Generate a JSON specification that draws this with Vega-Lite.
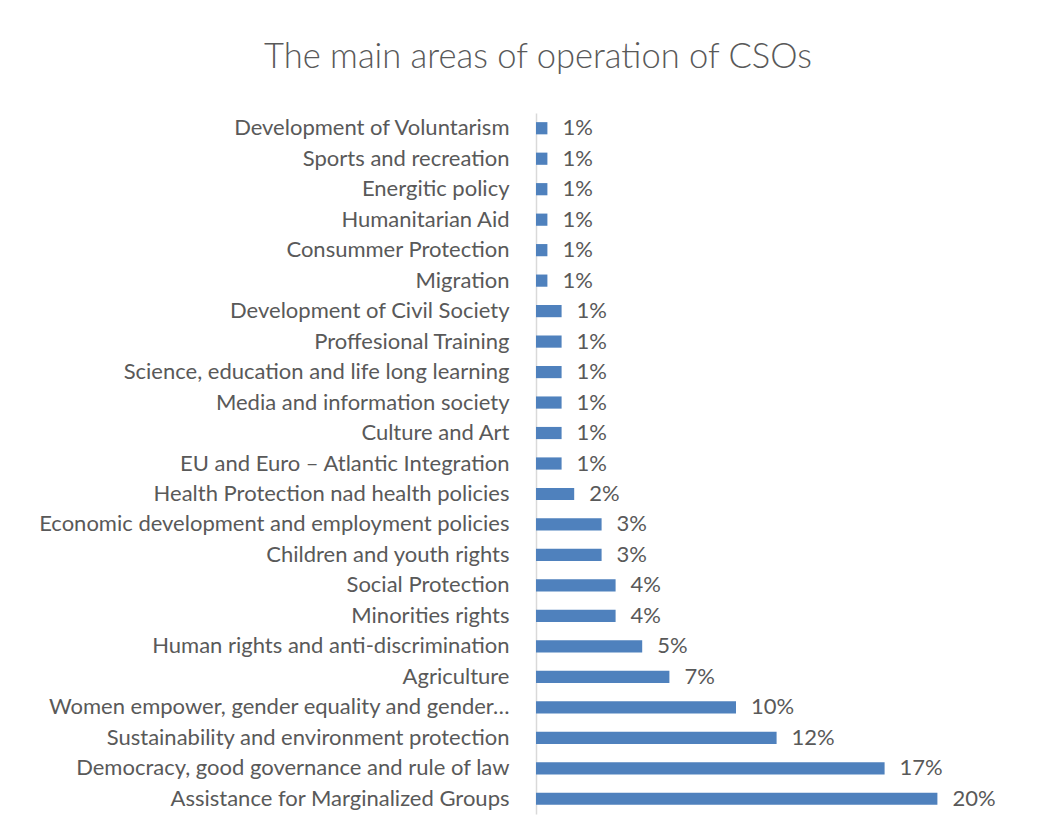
{
  "$schema": "https://vega.github.io/schema/vega-lite/v6.json",
  "width": 500,
  "height": 701,
  "autosize": "none",
  "padding": {"left": 536, "top": 113, "right": 17, "bottom": 20},
  "background": "white",
  "title": {
    "text": "The main areas of operation of CSOs",
    "anchor": "middle",
    "frame": "group",
    "dx": -248,
    "offset": 38,
    "font": "Lato",
    "fontWeight": 300,
    "fontSize": 34.5,
    "color": "#595959"
  },
  "data": {
    "values": [
      {"area": "Development of Voluntarism", "share": 0.0057},
      {"area": "Sports and recreation", "share": 0.0057},
      {"area": "Energitic policy", "share": 0.0057},
      {"area": "Humanitarian Aid", "share": 0.0057},
      {"area": "Consummer Protection", "share": 0.0057},
      {"area": "Migration", "share": 0.0057},
      {"area": "Development of Civil Society", "share": 0.0128},
      {"area": "Proffesional Training", "share": 0.0128},
      {"area": "Science, education and life long learning", "share": 0.0128},
      {"area": "Media and information society", "share": 0.0128},
      {"area": "Culture and Art", "share": 0.0128},
      {"area": "EU and Euro – Atlantic Integration", "share": 0.0128},
      {"area": "Health Protection nad health policies", "share": 0.0191},
      {"area": "Economic development and employment policies", "share": 0.0328},
      {"area": "Children and youth rights", "share": 0.0328},
      {"area": "Social Protection", "share": 0.0398},
      {"area": "Minorities rights", "share": 0.0398},
      {"area": "Human rights and anti-discrimination", "share": 0.0531},
      {"area": "Agriculture", "share": 0.0667},
      {"area": "Women empower, gender equality and gender…", "share": 0.1},
      {"area": "Sustainability and environment protection", "share": 0.1203},
      {"area": "Democracy, good governance and rule of law", "share": 0.1743},
      {"area": "Assistance for Marginalized Groups", "share": 0.2007}
    ]
  },
  "encoding": {
    "y": {
      "field": "area",
      "type": "nominal",
      "sort": null,
      "scale": {"paddingInner": 0.6, "paddingOuter": 0.3},
      "axis": {
        "title": null,
        "ticks": false,
        "domain": true,
        "domainColor": "#d9d9d9",
        "domainWidth": 1.5,
        "labelFont": "Lato",
        "labelFontSize": 22,
        "labelColor": "#595959",
        "labelPadding": 27,
        "labelLimit": 600
      }
    },
    "x": {
      "field": "share",
      "type": "quantitative",
      "scale": {"domain": [0, 0.25]},
      "axis": null
    }
  },
  "layer": [
    {"mark": {"type": "bar", "color": "#4F81BD"}},
    {
      "mark": {"type": "text", "align": "left", "baseline": "middle", "dx": 15, "font": "Lato", "fontSize": 22, "color": "#595959"},
      "encoding": {"text": {"field": "share", "type": "quantitative", "format": ".0%"}}
    }
  ],
  "config": {"view": {"stroke": null}}
}
